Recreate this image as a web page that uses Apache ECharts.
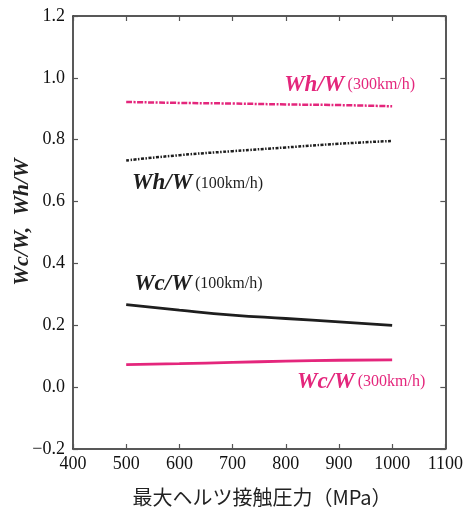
<!DOCTYPE html>
<html><head><meta charset="utf-8">
<script src="https://cdn.jsdelivr.net/npm/echarts@6/dist/echarts.min.js"></script>
<style>html,body{margin:0;padding:0;background:#fff}#c{width:466px;height:511px}</style>
</head><body><div id="c"></div>
<script>
const pressure = [500, 600, 700, 800, 900, 1000];
const wh300 = [0.922, 0.919, 0.917, 0.914, 0.912, 0.908];
const wh100 = [0.733, 0.750, 0.763, 0.775, 0.787, 0.796];
const wc100 = [0.267, 0.249, 0.233, 0.222, 0.211, 0.200];
const wc300 = [0.073, 0.076, 0.080, 0.084, 0.087, 0.088];
const xTicks = [400, 1100, 100];
const yTicks = [-0.2, 1.2, 0.2];
const labelMain = ['Wh/W', 'Wh/W', 'Wc/W', 'Wc/W'];
const labelSub = ['(300km/h)', '(100km/h)', '(100km/h)', '(300km/h)'];
const labelX = [797, 511, 515, 821];
const labelY = [0.976, 0.659, 0.333, 0.016];
const xName = '最大ヘルツ接触圧力（MPa）';
const yName = 'Wc/W,  Wh/W';

const PINK = '#e4267c', BLACK = '#1e1e1e';
const labelColor = [PINK, BLACK, BLACK, PINK];
const serif = '"Liberation Serif", "DejaVu Serif", serif';
const chart = echarts.init(document.getElementById('c'), null, {renderer: 'canvas'});
const pair = a => pressure.map((p, i) => [p, a[i]]);
const axisCommon = {
  axisLine: {show: true, onZero: false, lineStyle: {color: '#222', width: 1.5}},
  axisTick: {show: true, inside: true, length: 5, lineStyle: {color: '#555', width: 1.2}},
  splitLine: {show: false}
};
chart.setOption({
  animation: false,
  grid: {left: 73, right: 20, top: 16, bottom: 62},
  xAxis: [
    Object.assign({type: 'value', min: xTicks[0], max: xTicks[1], interval: xTicks[2], position: 'bottom',
      axisLabel: {color: '#111', fontFamily: serif, fontSize: 18, margin: 6, formatter: v => String(v)}}, axisCommon),
    Object.assign({type: 'value', min: xTicks[0], max: xTicks[1], interval: xTicks[2], position: 'top',
      axisLabel: {show: false}}, axisCommon)
  ],
  yAxis: [
    Object.assign({type: 'value', min: yTicks[0], max: yTicks[1], interval: yTicks[2], position: 'left',
      axisLabel: {color: '#111', fontFamily: serif, fontSize: 18, margin: 8,
        formatter: v => (v < 0 ? '\u2212' + Math.abs(v).toFixed(1) : v.toFixed(1))}}, axisCommon),
    Object.assign({type: 'value', min: yTicks[0], max: yTicks[1], interval: yTicks[2], position: 'right',
      axisLabel: {show: false}}, axisCommon)
  ],
  series: [
    {type: 'line', data: pair(wh300), showSymbol: false, smooth: true,
      lineStyle: {color: PINK, width: 2.5, type: [6, 1.5, 2, 1.5]}},
    {type: 'line', data: pair(wh100), showSymbol: false, smooth: true,
      lineStyle: {color: BLACK, width: 2.5, type: [3, 1.5, 1.5, 1.5]}},
    {type: 'line', data: pair(wc100), showSymbol: false, smooth: true,
      lineStyle: {color: BLACK, width: 2.8}},
    {type: 'line', data: pair(wc300), showSymbol: false, smooth: true,
      lineStyle: {color: PINK, width: 2.8}}
  ]
});
const g = [
  {type: 'text', x: 262, y: 497,
    style: {text: xName, font: '20px "Noto Sans CJK JP"', fill: '#222', align: 'center', verticalAlign: 'middle'}},
  {type: 'text', x: 22, y: 222, rotation: Math.PI / 2,
    style: {text: yName, font: 'italic bold 22px "Liberation Serif", serif', fill: '#222', align: 'center', verticalAlign: 'middle'}}
];
labelMain.forEach((m, i) => {
  const p = chart.convertToPixel({xAxisIndex: 0, yAxisIndex: 0}, [labelX[i], labelY[i]]);
  g.push({type: 'text', x: p[0], y: p[1],
    style: {text: '{m|' + m + '} {s|' + labelSub[i] + '}', fill: labelColor[i], verticalAlign: 'middle',
      rich: {
        m: {font: 'italic bold 23px "Liberation Serif", serif', fill: labelColor[i]},
        s: {font: '16px "Liberation Serif", serif', fill: labelColor[i]}
      }}});
});
chart.setOption({graphic: g});
</script></body></html>
